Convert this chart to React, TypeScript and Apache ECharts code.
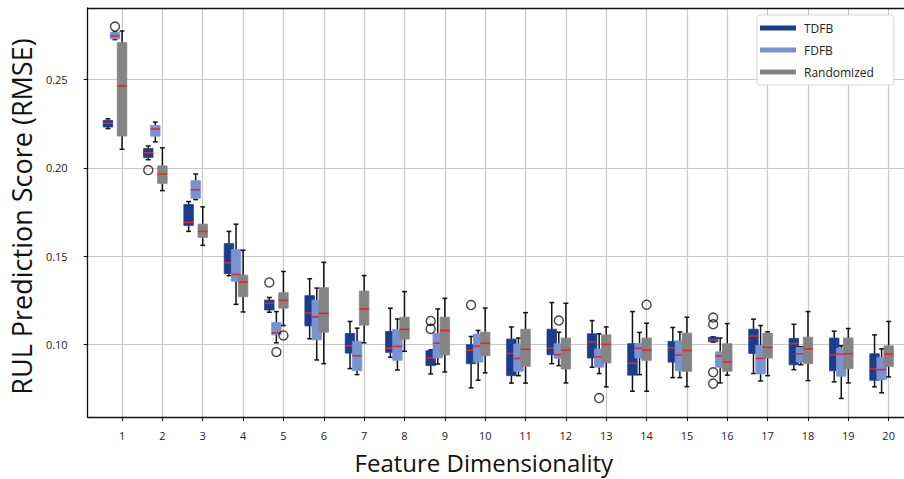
import React, { useEffect, useRef } from "react";
import * as echarts from "echarts";

// Feature dimensionality categories
const categories: number[] = [1, 2, 3, 4, 5, 6, 7, 8, 9, 10, 11, 12, 13, 14, 15, 16, 17, 18, 19, 20];

// Box statistics per category: [lower whisker, Q1, median, Q3, upper whisker]
const tdfbStats: number[][] = [
  [0.2223, 0.2232, 0.2253, 0.2270, 0.2279],
  [0.2047, 0.2060, 0.2086, 0.2110, 0.2125],
  [0.1641, 0.1675, 0.1692, 0.1793, 0.1810],
  [0.1390, 0.1402, 0.1463, 0.1572, 0.1641],
  [0.1183, 0.1196, 0.1234, 0.1252, 0.1267],
  [0.1033, 0.1106, 0.1179, 0.1277, 0.1373],
  [0.0864, 0.0952, 0.0993, 0.1063, 0.1131],
  [0.0928, 0.0956, 0.0979, 0.1074, 0.1206],
  [0.0834, 0.0881, 0.0924, 0.0965, 0.0970],
  [0.0755, 0.0892, 0.0967, 0.0999, 0.1046],
  [0.0782, 0.0824, 0.0950, 0.1031, 0.1100],
  [0.0892, 0.0943, 0.0980, 0.1087, 0.1238],
  [0.0872, 0.0924, 0.1016, 0.1061, 0.1136],
  [0.0736, 0.0827, 0.0894, 0.1005, 0.1187],
  [0.0813, 0.0901, 0.0982, 0.1018, 0.1097],
  [0.1014, 0.1016, 0.1027, 0.1042, 0.1044],
  [0.0836, 0.0950, 0.1048, 0.1087, 0.1144],
  [0.0858, 0.0886, 0.1005, 0.1035, 0.1115],
  [0.0789, 0.0852, 0.0941, 0.1037, 0.1076],
  [0.0761, 0.0798, 0.0864, 0.0948, 0.1055],
];

const fdfbStats: number[][] = [
  [0.2727, 0.2731, 0.2748, 0.2767, 0.2770],
  [0.2148, 0.2180, 0.2221, 0.2241, 0.2260],
  [0.1821, 0.1829, 0.1877, 0.1928, 0.1966],
  [0.1228, 0.1359, 0.1397, 0.1539, 0.1682],
  [0.1010, 0.1055, 0.1066, 0.1125, 0.1187],
  [0.0913, 0.1027, 0.1157, 0.1252, 0.1320],
  [0.0830, 0.0852, 0.0937, 0.1018, 0.1093],
  [0.0856, 0.0911, 0.0990, 0.1086, 0.1145],
  [0.0890, 0.0924, 0.1008, 0.1063, 0.1202],
  [0.0798, 0.0901, 0.0990, 0.1059, 0.1080],
  [0.0824, 0.0849, 0.0922, 0.1003, 0.1037],
  [0.0881, 0.0922, 0.0943, 0.1005, 0.1070],
  [0.0836, 0.0872, 0.0931, 0.0975, 0.1061],
  [0.0830, 0.0924, 0.0979, 0.1005, 0.1069],
  [0.0813, 0.0852, 0.0941, 0.1021, 0.1072],
  [0.0783, 0.0872, 0.0935, 0.0959, 0.1037],
  [0.0794, 0.0834, 0.0922, 0.0995, 0.1108],
  [0.0886, 0.0901, 0.0948, 0.0984, 0.0988],
  [0.0695, 0.0821, 0.0945, 0.0980, 0.0993],
  [0.0727, 0.0802, 0.0858, 0.0928, 0.0976],
];

const randomStats: number[][] = [
  [0.2106, 0.2181, 0.2465, 0.2710, 0.2776],
  [0.1872, 0.1913, 0.1966, 0.2012, 0.2114],
  [0.1562, 0.1607, 0.1641, 0.1682, 0.1780],
  [0.1185, 0.1271, 0.1354, 0.1393, 0.1534],
  [0.1108, 0.1206, 0.1251, 0.1294, 0.1414],
  [0.0892, 0.1070, 0.1177, 0.1322, 0.1466],
  [0.1010, 0.1110, 0.1202, 0.1303, 0.1391],
  [0.0962, 0.1031, 0.1086, 0.1155, 0.1300],
  [0.0845, 0.0941, 0.1080, 0.1155, 0.1262],
  [0.0840, 0.0937, 0.1007, 0.1070, 0.1207],
  [0.0782, 0.0877, 0.0973, 0.1087, 0.1181],
  [0.0783, 0.0862, 0.0969, 0.1037, 0.1234],
  [0.0761, 0.0896, 0.1001, 0.1055, 0.1100],
  [0.0736, 0.0911, 0.0969, 0.1037, 0.1121],
  [0.0762, 0.0849, 0.0967, 0.1065, 0.1155],
  [0.0827, 0.0849, 0.0901, 0.1005, 0.1119],
  [0.0824, 0.0924, 0.0984, 0.1065, 0.1072],
  [0.0796, 0.0892, 0.0976, 0.1042, 0.1187],
  [0.0783, 0.0864, 0.0948, 0.1037, 0.1091],
  [0.0817, 0.0877, 0.0946, 0.0993, 0.1131],
];

// Outliers: [category, value]
const tdfbOutliers: number[][] = [
  [2, 0.1988], [5, 0.1352], [9, 0.1134], [9, 0.1089], [10, 0.1224],
  [16, 0.1153], [16, 0.1115], [16, 0.0843], [16, 0.0779],
];
const fdfbOutliers: number[][] = [[1, 0.2801], [5, 0.0958], [12, 0.1136], [13, 0.0697]];
const randomOutliers: number[][] = [[5, 0.1052], [14, 0.1226]];

const yTicks: number[] = [0.1, 0.15, 0.2, 0.25];

const FONT = "'Open Sans', 'Noto Sans', sans-serif";
const COLORS = { TDFB: "#1b3e8c", FDFB: "#7893d2", Randomized: "#848484" };
const OFFSETS = { TDFB: -0.35, FDFB: -0.175, Randomized: 0 };
const BOX_W = 0.235;
const CAP_W = 0.12;

function makeRender(fill: string) {
  return (params: any, api: any) => {
    const x = api.value(0);
    const pLow = api.coord([x, api.value(1)]);
    const pQ1 = api.coord([x, api.value(2)]);
    const pMed = api.coord([x, api.value(3)]);
    const pQ3 = api.coord([x, api.value(4)]);
    const pHigh = api.coord([x, api.value(5)]);
    const bw = api.size([BOX_W, 0])[0];
    const cw = api.size([CAP_W, 0])[0];
    const cx = pLow[0];
    const wStyle = { stroke: "#111", lineWidth: 1.5 };
    return {
      type: "group",
      children: [
        { type: "line", shape: { x1: cx, y1: pLow[1], x2: cx, y2: pQ1[1] }, style: wStyle },
        { type: "line", shape: { x1: cx, y1: pQ3[1], x2: cx, y2: pHigh[1] }, style: wStyle },
        { type: "line", shape: { x1: cx - cw / 2, y1: pLow[1], x2: cx + cw / 2, y2: pLow[1] }, style: wStyle },
        { type: "line", shape: { x1: cx - cw / 2, y1: pHigh[1], x2: cx + cw / 2, y2: pHigh[1] }, style: wStyle },
        {
          type: "rect",
          shape: { x: cx - bw / 2, y: pQ3[1], width: bw, height: Math.max(1, pQ1[1] - pQ3[1]) },
          style: { fill, stroke: fill, lineWidth: 0.8 },
        },
        {
          type: "line",
          shape: { x1: cx - bw / 2, y1: pMed[1], x2: cx + bw / 2, y2: pMed[1] },
          style: { stroke: "#e3262b", lineWidth: 1.6 },
        },
      ],
    };
  };
}

function boxSeries(name: "TDFB" | "FDFB" | "Randomized", stats: number[][]) {
  return {
    name,
    type: "custom",
    renderItem: makeRender(COLORS[name]),
    itemStyle: { color: COLORS[name] },
    encode: { x: 0, y: [1, 2, 3, 4, 5] },
    data: stats.map((s, i) => [categories[i] + OFFSETS[name], ...s]),
    z: 2,
  };
}

function outlierSeries(name: "TDFB" | "FDFB" | "Randomized", pts: number[][]) {
  return {
    name: name + " outliers",
    type: "scatter",
    symbol: "circle",
    symbolSize: 9,
    itemStyle: { color: "rgba(0,0,0,0)", borderColor: "#111", borderWidth: 1.4 },
    data: pts.map((p) => [p[0] + OFFSETS[name], p[1]]),
    z: 3,
  };
}

export default function App() {
  const ref = useRef<HTMLDivElement>(null);
  useEffect(() => {
    if (!ref.current) return;
    const chart = echarts.init(ref.current, undefined, { renderer: "svg" });
    const xMin = 0.148;
    const xMax = 20.38;
    chart.setOption({
      animation: false,
      backgroundColor: "#fff",
      grid: { left: 84.5, right: 0, top: 8, bottom: 59.7 },
      legend: {
        data: [
          { name: "TDFB", icon: "rect" },
          { name: "FDFB", icon: "rect" },
          { name: "Randomized", icon: "rect" },
        ],
        orient: "vertical",
        left: 757,
        top: 15,
        itemWidth: 36,
        itemHeight: 5,
        itemGap: 8,
        padding: [6, 20, 6, 3],
        backgroundColor: "#fff",
        borderColor: "#d5d5d5",
        borderWidth: 1,
        borderRadius: 3,
        textStyle: { fontSize: 12, fontFamily: FONT, color: "#222", lineHeight: 14, padding: [0, 0, 0, 3] },
        selectedMode: false,
        z: 10,
      },
      xAxis: [
        {
          type: "value",
          min: xMin,
          max: xMax,
          position: "bottom",
          name: "Feature Dimensionality",
          nameLocation: "middle",
          nameGap: 33,
          nameTextStyle: { fontSize: 24, fontFamily: FONT, color: "#111", padding: [0, 24, 0, 0] },
          axisLine: { show: true, lineStyle: { color: "#111", width: 1.3 } },
          axisTick: { show: true, length: 4, customValues: categories, lineStyle: { color: "#111", width: 1 } },
          axisLabel: {
            customValues: categories,
            fontSize: 11,
            fontFamily: FONT,
            color: "#222",
            margin: 13,
            formatter: (v: number) => String(v),
          },
          splitLine: { show: true, lineStyle: { color: "#c8c8c8", width: 1.2 } },
        },
        {
          type: "value",
          min: xMin,
          max: xMax,
          position: "top",
          axisLine: { show: true, lineStyle: { color: "#111", width: 1.3 } },
          axisTick: { show: false },
          axisLabel: { show: false },
          splitLine: { show: false },
        },
      ],
      yAxis: {
        type: "value",
        min: 0.059,
        max: 0.2906,
        name: "RUL Prediction Score (RMSE)",
        nameLocation: "middle",
        nameGap: 52,
        nameTextStyle: { fontSize: 27, fontFamily: FONT, color: "#111", padding: [0, 8, 0, 0] },
        axisLine: { show: true, lineStyle: { color: "#111", width: 1.3 } },
        axisTick: { show: true, length: 4, customValues: yTicks, lineStyle: { color: "#111", width: 1 } },
        axisLabel: {
          customValues: yTicks,
          fontSize: 11,
          fontFamily: FONT,
          color: "#222",
          margin: 20,
          formatter: (v: number) => v.toFixed(2),
        },
        splitLine: { show: true, lineStyle: { color: "#c8c8c8", width: 1.2 } },
      },
      series: [
        boxSeries("TDFB", tdfbStats),
        boxSeries("FDFB", fdfbStats),
        boxSeries("Randomized", randomStats),
        outlierSeries("TDFB", tdfbOutliers),
        outlierSeries("FDFB", fdfbOutliers),
        outlierSeries("Randomized", randomOutliers),
      ],
    });
    return () => chart.dispose();
  }, []);
  return (
    <div
      ref={ref}
      style={{ position: "fixed", left: 0, top: 0, width: 904, height: 479, background: "#fff" }}
    />
  );
}
